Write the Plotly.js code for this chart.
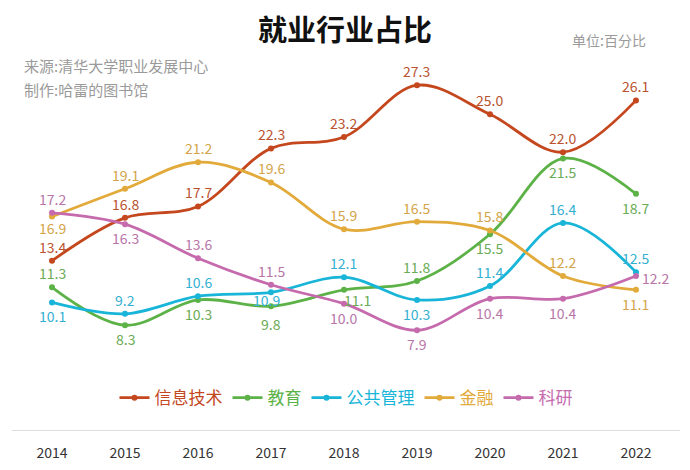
<!DOCTYPE html>
<html><head><meta charset="utf-8">
<script src="https://cdn.plot.ly/plotly-3.0.1.min.js"></script>
<style>html,body{margin:0;padding:0;background:#fff}#c{width:690px;height:470px}</style>
</head><body><div id="c"></div>
<script>
var years = [2014, 2015, 2016, 2017, 2018, 2019, 2020, 2021, 2022];
var names = ['信息技术', '教育', '公共管理', '金融', '科研'];
var it      = [13.4, 16.8, 17.7, 22.3, 23.2, 27.3, 25.0, 22.0, 26.1];
var edu     = [11.3, 8.3, 10.3, 9.8, 11.1, 11.8, 15.5, 21.5, 18.7];
var pub     = [10.1, 9.2, 10.6, 10.9, 12.1, 10.3, 11.4, 16.4, 12.5];
var fin     = [16.9, 19.1, 21.2, 19.6, 15.9, 16.5, 15.8, 12.2, 11.1];
var sci     = [17.2, 16.3, 13.6, 11.5, 10.0, 7.9, 10.4, 10.4, 12.2];

// label placement codes: T above, B below, BB further below, BR below-right, BL below-left, R right, BS slightly below
var pos = [
  ['T','T','T','T','T','T','T','T','T'],
  ['T','B','B','BB','BR','T','B','B','B'],
  ['B','T','T','BL','T','B','T','T','T'],
  ['BS','T','T','T','T','T','T','T','B'],
  ['T','B','T','T','B','B','B','B','R']
];
var shifts = {T:[0,14], B:[0,-14], BS:[0,-11], BB:[0,-18], BR:[14,-10], BL:[-5,-8], R:[20,-2]};
var colors = ['#c4471d', '#5cb247', '#19b5d9', '#e2aa3a', '#c66aae'];
var tcolors = ['#b9532f', '#6aab56', '#33b0d2', '#d3a44a', '#b876a8'];
var series = [it, edu, pub, fin, sci];

var data = series.map(function(v, i){
  return {
    x: years, y: v, name: names[i], type: 'scatter', mode: 'lines+markers',
    line: {color: colors[i], width: 2.8, shape: 'spline', smoothing: 1},
    marker: {color: colors[i], size: 6},
    hoverinfo: 'skip'
  };
});

var annotations = [
  {text: '来源:清华大学职业发展中心', xref: 'paper', yref: 'paper', x: 0.015, y: 0.96, xanchor: 'left', yanchor: 'middle',
   showarrow: false, font: {size: 15, color: '#9a9a9a'}},
  {text: '制作:哈雷的图书馆', xref: 'paper', yref: 'paper', x: 0.015, y: 0.895, xanchor: 'left', yanchor: 'middle',
   showarrow: false, font: {size: 15, color: '#9a9a9a'}},
  {text: '单位:百分比', xref: 'paper', yref: 'paper', x: 0.952, y: 1.026, xanchor: 'right', yanchor: 'middle',
   showarrow: false, font: {size: 14, color: '#9a9a9a'}}
];
series.forEach(function(v, i){
  v.forEach(function(val, j){
    var s = shifts[pos[i][j]];
    annotations.push({x: years[j], y: val, xref: 'x', yref: 'y', text: val.toFixed(1), showarrow: false,
      xanchor: 'center', yanchor: 'middle', xshift: s[0], yshift: s[1],
      font: {size: 14, color: tcolors[i], family: 'Noto Sans CJK SC, sans-serif'}});
  });
});

var layout = {
  width: 690, height: 470,
  margin: {l: 12, r: 10, t: 50, b: 40},
  paper_bgcolor: '#fff', plot_bgcolor: '#fff',
  font: {family: 'Noto Sans CJK SC, sans-serif'},
  title: {text: '<b>就业行业占比</b>', x: 0.5, xanchor: 'center', y: 0.934, yanchor: 'middle',
          font: {size: 29, color: '#111', family: 'Noto Sans CJK SC, sans-serif'}},
  xaxis: {range: [2013.452, 2022.603], tickmode: 'array', tickvals: years, ticktext: years.map(String),
          showgrid: false, zeroline: false, showline: true, linecolor: '#dddddd', linewidth: 1,
          ticks: '', tickfont: {size: 14, color: '#333', family: 'Noto Sans CJK SC, sans-serif'}, ticklabelstandoff: 10},
  yaxis: {range: [0, 30.09], visible: false, showgrid: false, zeroline: false},
  showlegend: true,
  legend: {orientation: 'h', x: 0.5, xanchor: 'center', y: 0.084, yanchor: 'middle',
           font: {size: 17, family: 'Noto Sans CJK SC, sans-serif'}, bgcolor: 'rgba(0,0,0,0)'},
  annotations: annotations
};
Plotly.newPlot('c', data, layout, {displayModeBar: false, staticPlot: true}).then(function(){
  var items = document.querySelectorAll('.legend .traces');
  items.forEach(function(g, i){
    var t = g.querySelector('text.legendtext');
    if (t) t.style.fill = colors[i];
  });
});
</script>
</body></html>
